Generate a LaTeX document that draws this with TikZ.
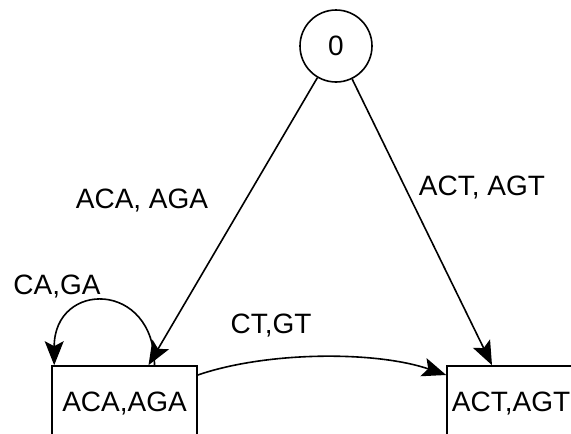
\documentclass[tikz,border=0pt]{standalone}
\usepackage{fontspec}
\setmainfont{Liberation Sans}
\usetikzlibrary{arrows.meta,calc}
\tikzset{>={Stealth[length=24pt,width=19pt,inset=5pt]}}
\tikzstyle{state}=[draw,circle,line width=1.6pt,minimum size=72pt,inner sep=0pt]
\tikzstyle{group}=[draw,rectangle,line width=1.6pt,inner sep=0pt,minimum height=76pt]
\tikzset{
  trans/.style={->,line width=1.6pt},
  lbl/.style={inner sep=0pt}}

\begin{document}
\begin{tikzpicture}[x=1pt,y=-1pt,font=\fontsize{28}{33}\selectfont]
  \useasboundingbox (0,0) rectangle (571,434);
  \clip (0,0) rectangle (571,434);

  % STATES
  \node[state] (q0) at (336,46) {0};
  \node[group,minimum width=145pt] (aca) at (124.5,404) {ACA,AGA};
  \node[group,minimum width=128pt] (act) at (511,404) {ACT,AGT};

  % TRANSITIONS
  \coordinate (acain) at ([xshift=24pt]aca.north);
  \coordinate (actin) at ([xshift=-19pt]act.north);
  \draw[trans] (q0) -- (acain);
  \draw[trans] (q0) -- (actin);
  \draw[trans] ([xshift=30pt]aca.north) .. controls +(0,-85) and +(0,-85)
    .. ([xshift=3pt]aca.north west);
  \draw[trans] ([yshift=29pt]aca.east) .. controls +(70,-24) and +(-70,-24)
    .. ([yshift=29pt]act.west);

  % LABELS
  \node[lbl] (lblaca) at (142,201) {ACA, AGA};
  \node[lbl] (lblact) at (482,188) {ACT, AGT};
  \node[lbl] (lblloop) at (57,287) {CA,GA};
  \node[lbl] (lblct) at (271,326) {CT,GT};

\end{tikzpicture}
\end{document}
